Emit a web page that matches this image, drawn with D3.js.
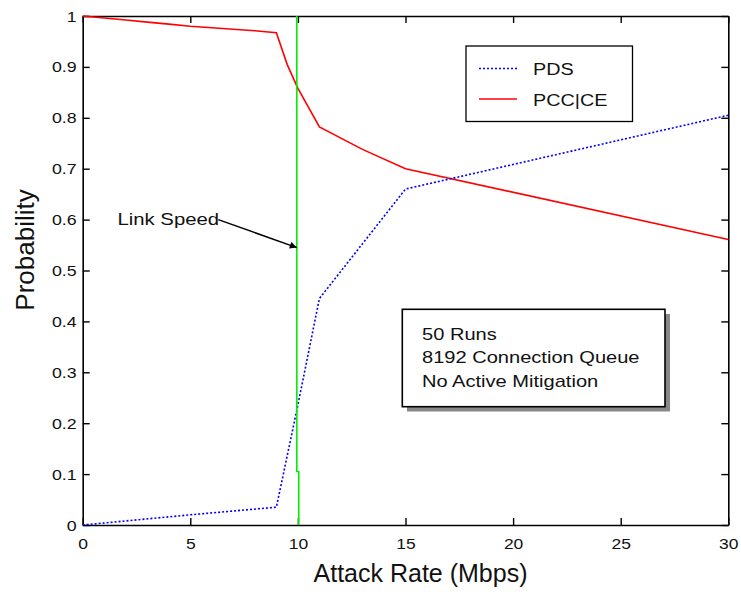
<!DOCTYPE html>
<html>
<head>
<meta charset="utf-8">
<script src="https://cdn.jsdelivr.net/npm/d3@7"></script>
<style>
  html, body { margin: 0; padding: 0; background: #fff; }
  svg { display: block; font-family: "Liberation Sans", Arial, Helvetica, sans-serif; }
</style>
</head>
<body>
<svg id="chart" width="741" height="595"></svg>
<script>
// Attack rate (Mbps) and probabilities for each curve
const pdsRate = [0, 5, 9, 10, 11, 15, 30];
const pdsProb = [0, 0.020, 0.035, 0.236, 0.445, 0.660, 0.805];

const pccRate = [0, 1, 2, 3, 4, 5, 6, 7, 8, 9, 9.5, 10, 11, 13, 15, 30];
const pccProb = [1.0, 0.996, 0.992, 0.988, 0.984, 0.980, 0.977, 0.974, 0.971, 0.967, 0.905, 0.858, 0.782, 0.738, 0.700, 0.561];

// Link speed marker (10 Mbps)
const linkRate = [10.04, 10.04, 9.95, 9.95];
const linkProb = [0, 0.105, 0.105, 1];

const xTicks = [0, 5, 10, 15, 20, 25, 30];
const yTicks = [0, 0.1, 0.2, 0.3, 0.4, 0.5, 0.6, 0.7, 0.8, 0.9, 1];

const legendLabels = ["PDS", "PCC|CE"];
const noteLines = ["50 Runs", "8192 Connection Queue", "No Active Mitigation"];
const arrowLabel = "Link Speed";
const arrowFrom = [6.3, 0.60];
const arrowTo = [9.95, 0.545];

const svg = d3.select("#chart");
const plotLeft = 82.7, plotRight = 728.3, plotTop = 16, plotBottom = 525;

const x = d3.scaleLinear().domain([0, 30]).range([plotLeft, plotRight]);
const y = d3.scaleLinear().domain([0, 1]).range([plotBottom, plotTop]);

const zip = (xs, ys) => xs.map((v, i) => [v, ys[i]]);
const line = d3.line().x(d => x(d[0])).y(d => y(d[1]));

// Horizontally widened label helper
function label(g, px, py, str, size, sx, anchor) {
  return g.append("text")
    .attr("transform", `translate(${px},${py}) scale(${sx},1)`)
    .attr("font-size", size)
    .attr("text-anchor", anchor || "start")
    .attr("fill", "#111")
    .text(str);
}

// Axes with inward ticks, mirrored on top and right
const tickFmt = d => d === 0 ? "0" : d === 1 ? "1" : d3.format(".1f")(d);

const gx = svg.append("g").attr("transform", `translate(0,${plotBottom})`)
  .call(d3.axisBottom(x).tickValues(xTicks).tickSizeInner(-7).tickSizeOuter(0).tickFormat(d3.format("d")));
gx.selectAll("text")
  .attr("y", 0).attr("dy", null)
  .attr("transform", "translate(0,23.5) scale(1.25,1)")
  .attr("font-size", 14).attr("fill", "#111");

const gy = svg.append("g").attr("transform", `translate(${plotLeft},0)`)
  .call(d3.axisLeft(y).tickValues(yTicks).tickSizeInner(-7).tickSizeOuter(0).tickFormat(tickFmt));
gy.selectAll("text")
  .attr("x", 0).attr("dy", "0.36em")
  .attr("transform", "translate(-6,0) scale(1.27,1)")
  .attr("font-size", 14).attr("fill", "#111");

svg.append("g").attr("transform", `translate(0,${plotTop})`)
  .call(d3.axisTop(x).tickValues(xTicks).tickSizeInner(-7).tickSizeOuter(0).tickFormat(""));
svg.append("g").attr("transform", `translate(${plotRight},0)`)
  .call(d3.axisRight(y).tickValues(yTicks).tickSizeInner(-7).tickSizeOuter(0).tickFormat(""));

svg.selectAll(".domain").attr("stroke", "#000").attr("stroke-width", 1.6);
svg.selectAll(".tick line").attr("stroke", "#000").attr("stroke-width", 1.4);

// Curves
svg.append("path").datum(zip(pccRate, pccProb))
  .attr("d", line).attr("fill", "none").attr("stroke", "#ff0000").attr("stroke-width", 1.6);
svg.append("path").datum(zip(pdsRate, pdsProb))
  .attr("d", line).attr("fill", "none").attr("stroke", "#0000ff").attr("stroke-width", 1.6)
  .attr("stroke-dasharray", "2,2");
svg.append("path").datum(zip(linkRate, linkProb))
  .attr("d", line).attr("fill", "none").attr("stroke", "#00ee00").attr("stroke-width", 1.6);

// Link speed annotation arrow
svg.append("defs").append("marker")
  .attr("id", "arrowhead").attr("viewBox", "0 0 10 10")
  .attr("refX", 10).attr("refY", 5)
  .attr("markerWidth", 10).attr("markerHeight", 7)
  .attr("markerUnits", "userSpaceOnUse")
  .attr("orient", "auto")
  .append("path").attr("d", "M0,0 L10,5 L0,10 Z").attr("fill", "#000");

svg.append("line")
  .attr("x1", x(arrowFrom[0])).attr("y1", y(arrowFrom[1]))
  .attr("x2", x(arrowTo[0])).attr("y2", y(arrowTo[1]))
  .attr("stroke", "#000").attr("stroke-width", 1.5)
  .attr("marker-end", "url(#arrowhead)");
label(svg, 117.5, 225, arrowLabel, 16, 1.27, "start");

// Legend
const lg = svg.append("g");
lg.append("rect").attr("x", 466).attr("y", 46).attr("width", 166.5).attr("height", 75.5)
  .attr("fill", "#fff").attr("stroke", "#000").attr("stroke-width", 1.3);
lg.append("line").attr("x1", 479).attr("x2", 517).attr("y1", 68.5).attr("y2", 68.5)
  .attr("stroke", "#0000ff").attr("stroke-width", 1.6).attr("stroke-dasharray", "2,2");
lg.append("line").attr("x1", 479).attr("x2", 517).attr("y1", 99).attr("y2", 99)
  .attr("stroke", "#ff0000").attr("stroke-width", 1.6);
label(lg, 533, 75, legendLabels[0], 16.5, 1.2, "start");
label(lg, 533, 105.5, legendLabels[1], 16.5, 1.2, "start");

// Note box with drop shadow
const nb = svg.append("g");
nb.append("rect").attr("x", 407).attr("y", 314).attr("width", 263).attr("height", 97.5)
  .attr("fill", "#888");
nb.append("rect").attr("x", 402.3).attr("y", 309.3).attr("width", 262.7).attr("height", 97.4)
  .attr("fill", "#fff").attr("stroke", "#000").attr("stroke-width", 1.6);
noteLines.forEach((t, i) => label(nb, 422, 339.5 + i * 23.7, t, 16, 1.255, "start"));

// Axis titles
svg.append("text")
  .attr("x", 420.5).attr("y", 582)
  .attr("text-anchor", "middle").attr("font-size", 25).attr("fill", "#111")
  .text("Attack Rate (Mbps)");
svg.append("text")
  .attr("transform", "translate(33.5,250) rotate(-90)")
  .attr("text-anchor", "middle").attr("font-size", 26).attr("fill", "#111")
  .text("Probability");
</script>
</body>
</html>
